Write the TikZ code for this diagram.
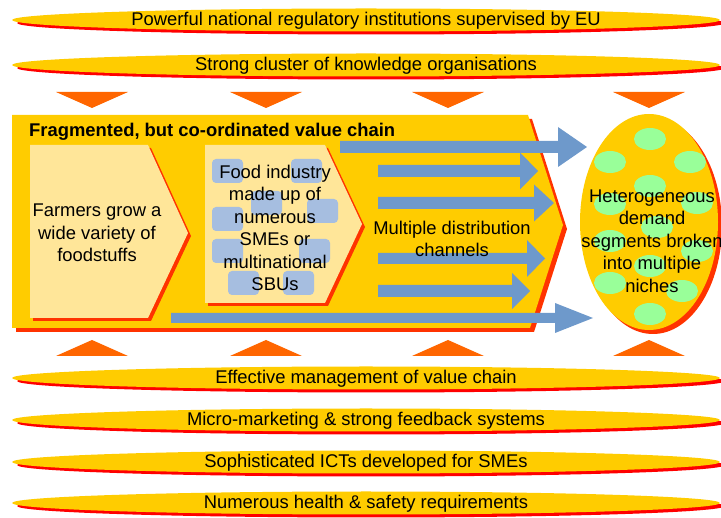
\documentclass[tikz,border=0pt]{standalone}
\usepackage{fontspec}
\setmainfont{Liberation Sans}
\definecolor{gold}{HTML}{FFCC00}
\definecolor{bannerred}{HTML}{FF0000}
\definecolor{framered}{HTML}{FF3300}
\definecolor{triorange}{HTML}{FF6600}
\definecolor{paleyellow}{HTML}{FFE699}
\definecolor{arrowblue}{HTML}{6E99CB}
\definecolor{boxblue}{HTML}{A6BEE0}
\definecolor{spotgreen}{HTML}{99FF99}
\newcommand{\blockarrow}[6]{%
	\fill[arrowblue] (#1,#4-#5) -- (#2,#4-#5) -- (#2,#4-#6) -- (#3,#4) -- (#2,#4+#6) -- (#2,#4+#5) -- (#1,#4+#5) -- cycle;}

\begin{document}
\begin{tikzpicture}[x=1pt,y=-1pt,
	txt/.style={align=center,inner sep=0,font=\fontsize{18.4}{22.4}\selectfont}]
	\useasboundingbox (0,0) rectangle (721,518);
	\foreach \yy/\txt [count=\i] in {20/Powerful national regulatory institutions supervised by EU,
			65/Strong cluster of knowledge organisations,
			378/Effective management of value chain,
			420/Micro-marketing \& strong feedback systems,
			462/Sophisticated ICTs developed for SMEs,
			503/Numerous health \& safety requirements}{
		\fill[bannerred] (371,\yy+3) ellipse (354 and 11.5);
		\fill[gold] (366,\yy) ellipse (354 and 11.5);
		\node[txt] (banner\i) at (366,\yy+1) {\txt};
	}
	\foreach \xx in {92,266,448,649}{
		\fill[triorange] (\xx-36,92) -- (\xx+36,92) -- (\xx,108) -- cycle;
		\fill[triorange] (\xx-36,356) -- (\xx+36,356) -- (\xx,340) -- cycle;
	}
	\fill[framered] (16,119) -- (532,119) -- (567,229) -- (534,332) -- (16,332) -- cycle;
	\fill[gold] (12,115) -- (528,115) -- (563,225) -- (530,328) -- (12,328) -- cycle;
	\node[txt,anchor=west,font=\fontsize{18.4}{22.4}\selectfont\bfseries] (title) at (29,132) {Fragmented, but co-ordinated value chain};

	\fill[framered] (33,148) -- (151,148) -- (191,236) -- (151,321) -- (33,321) -- cycle;
	\fill[paleyellow] (30,145) -- (148,145) -- (188,233) -- (148,318) -- (30,318) -- cycle;
	\fill[framered] (208,148) -- (328,148) -- (365,227) -- (328,306) -- (208,306) -- cycle;
	\fill[paleyellow] (205,145) -- (325,145) -- (362,224) -- (325,303) -- (205,303) -- cycle;
	\foreach \bx/\by in {212/159, 291/159, 251/191, 307/199, 212/207, 212/239, 299/239, 228/271, 283/271}{
		\fill[boxblue,rounded corners=4] (\bx,\by) rectangle ++(31,24);
	}
	\node[txt] (farmers) at (97,233) {Farmers grow a\\wide variety of\\foodstuffs};
	\node[txt] (food) at (275,228) {Food industry\\made up of\\numerous\\SMEs or\\multinational\\SBUs};

	\blockarrow{340}{558}{587}{147}{6}{20}
	\blockarrow{378}{520}{538}{171}{6}{18.5}
	\blockarrow{378}{534}{554}{203}{6}{18.5}
	\blockarrow{378}{527}{545}{258.5}{5.5}{18.5}
	\blockarrow{378}{512}{530}{291}{6}{18}
	\blockarrow{171}{555}{593}{318}{5}{15}
	\node[txt] (channels) at (452,239) {Multiple distribution\\channels};

	\fill[framered] (653,226) ellipse (69 and 108);
	\fill[gold] (649,222) ellipse (69 and 108);
	\foreach \sx/\sy in {650/139, 610/162, 690/162, 650/186, 610/204, 697/203, 657/227,
			610/241, 697/251, 650/266, 610/283, 682/291, 650/314}{
		\fill[spotgreen] (\sx,\sy) ellipse (16 and 11);
	}
	\node[txt] (demand) at (652,241) {Heterogeneous\\demand\\segments broken\\into multiple\\niches};
\end{tikzpicture}
\end{document}
